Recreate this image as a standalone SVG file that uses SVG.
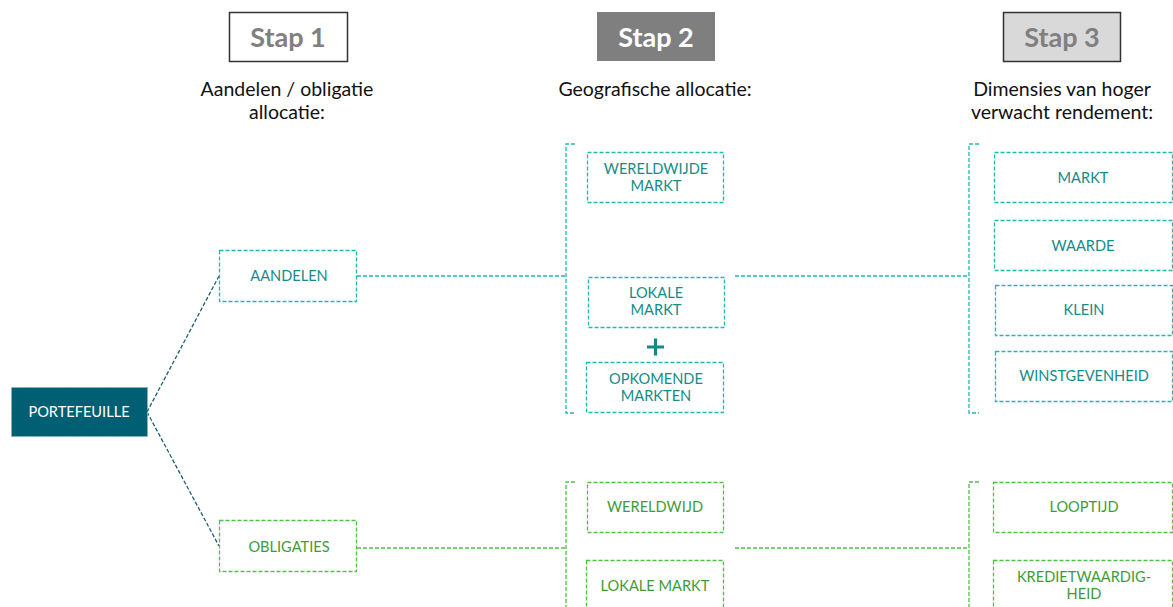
<svg xmlns="http://www.w3.org/2000/svg" width="1173" height="607" viewBox="0 0 1173 607">
<style>
.step{font-family:Lato,"Noto Sans",sans-serif;font-size:27px;font-weight:bold;text-anchor:middle}
.sub{font-family:Lato,"Noto Sans",sans-serif;font-size:19.5px;fill:#111;text-anchor:middle}
.lbl{font-family:Lato,"Noto Sans",sans-serif;font-size:14.6px;text-anchor:middle}
.t{fill:#fff;stroke:#1fb8b2;stroke-width:1.3;stroke-dasharray:4 2}
.tt{fill:#148c87}
.g{fill:#fff;stroke:#4dc243;stroke-width:1.3;stroke-dasharray:4 2}
.gt{fill:#3f9c35}
.tl{fill:none;stroke:#1fb8b2;stroke-width:1.3;stroke-dasharray:4 2}
.gl{fill:none;stroke:#4dc243;stroke-width:1.3;stroke-dasharray:4 2}
.dl{fill:none;stroke:#1e5f72;stroke-width:1.3;stroke-dasharray:4 2}
</style>
<rect width="1173" height="607" fill="#fff"/>
<g id="stap1">
<rect x="229.5" y="12.5" width="118" height="49" fill="#fff" stroke="#333" stroke-width="1.5"/>
<text class="step" x="288" y="47" fill="#808080">Stap 1</text>
<text class="sub" x="287" y="96">Aandelen / obligatie</text>
<text class="sub" x="287" y="119">allocatie:</text>
</g>
<g id="stap2">
<rect x="597" y="12" width="118" height="49" fill="#7f7f7f"/>
<text class="step" x="656" y="47" fill="#fff">Stap 2</text>
<text class="sub" x="655" y="96">Geografische allocatie:</text>
</g>
<g id="stap3">
<rect x="1003.5" y="12.5" width="117" height="49" fill="#d9d9d9" stroke="#333" stroke-width="1.5"/>
<text class="step" x="1062" y="47" fill="#808080">Stap 3</text>
<text class="sub" x="1062" y="96">Dimensies van hoger</text>
<text class="sub" x="1062" y="119">verwacht rendement:</text>
</g>
<g id="connectors">
<path class="dl" d="M147 412 L219 276 M147 412 L219 546"/>
<path class="tl" d="M357 276 H566 M575 144 H566 V413 H575 M735 276 H969 M979 144 H969 V413 H979"/>
<path class="gl" d="M357 548 H566 M575 482 H566 V610 M735 548 H969 M979 482 H969 V610"/>
</g>
<g id="portefeuille">
<rect x="11.5" y="387.5" width="136" height="49" fill="#005f73" stroke="#8fb3bd" stroke-width="1" stroke-dasharray="3 2"/>
<text class="lbl" x="79" y="417" fill="#fff">PORTEFEUILLE</text>
</g>
<g id="aandelen">
<rect class="t" x="219.5" y="250.5" width="137" height="51"/>
<text class="lbl tt" x="289" y="281">AANDELEN</text>
</g>
<g id="obligaties">
<rect class="g" x="219.5" y="520.5" width="137" height="51"/>
<text class="lbl gt" x="289" y="552">OBLIGATIES</text>
</g>
<g id="wereldwijde-markt">
<rect class="t" x="587.5" y="152.5" width="136" height="50"/>
<text class="lbl tt" x="656" y="174">WERELDWIJDE</text>
<text class="lbl tt" x="656" y="191">MARKT</text>
</g>
<g id="lokale-markt">
<rect class="t" x="588.5" y="277.5" width="136" height="50"/>
<text class="lbl tt" x="656" y="298">LOKALE</text>
<text class="lbl tt" x="656" y="315">MARKT</text>
</g>
<g id="plus">
<path d="M647 347 H664 M655.5 338.5 V355.5" stroke="#138a86" stroke-width="3.2" fill="none"/>
</g>
<g id="opkomende-markten">
<rect class="t" x="586.5" y="362.5" width="137" height="50"/>
<text class="lbl tt" x="656" y="384">OPKOMENDE</text>
<text class="lbl tt" x="656" y="401">MARKTEN</text>
</g>
<g id="markt">
<rect class="t" x="994.5" y="152.5" width="178" height="50"/>
<text class="lbl tt" x="1083" y="183">MARKT</text>
</g>
<g id="waarde">
<rect class="t" x="994.5" y="220.5" width="178" height="50"/>
<text class="lbl tt" x="1083" y="251">WAARDE</text>
</g>
<g id="klein">
<rect class="t" x="995.5" y="285.5" width="177" height="50"/>
<text class="lbl tt" x="1084" y="315">KLEIN</text>
</g>
<g id="winstgevenheid">
<rect class="t" x="995.5" y="351.5" width="177" height="50"/>
<text class="lbl tt" x="1084" y="381">WINSTGEVENHEID</text>
</g>
<g id="wereldwijd">
<rect class="g" x="587.5" y="482.5" width="136" height="50"/>
<text class="lbl gt" x="655" y="512">WERELDWIJD</text>
</g>
<g id="lokale-markt-2">
<rect class="g" x="586.5" y="560.5" width="137" height="60"/>
<text class="lbl gt" x="655" y="591">LOKALE MARKT</text>
</g>
<g id="looptijd">
<rect class="g" x="993.5" y="482.5" width="179" height="50"/>
<text class="lbl gt" x="1084" y="512">LOOPTIJD</text>
</g>
<g id="kredietwaardigheid">
<rect class="g" x="993.5" y="560.5" width="179" height="60"/>
<text class="lbl gt" x="1084" y="582">KREDIETWAARDIG-</text>
<text class="lbl gt" x="1084" y="599">HEID</text>
</g>
</svg>
